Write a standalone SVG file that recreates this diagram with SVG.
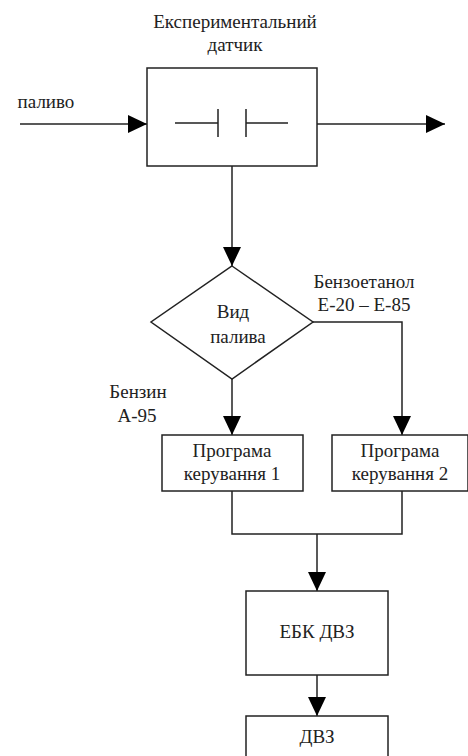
<svg xmlns="http://www.w3.org/2000/svg" width="468" height="756" viewBox="0 0 468 756">
<defs>
<marker id="ah" viewBox="0 0 19 18" refX="19" refY="9" markerWidth="19" markerHeight="18" markerUnits="userSpaceOnUse" orient="auto">
<path d="M0,0 L19,9 L0,18 Z" fill="#000"/>
</marker>
<style>
.s{fill:#fff;stroke:#222;stroke-width:1.5}
.l{fill:none;stroke:#222;stroke-width:1.5}
</style>
</defs>
<rect width="468" height="756" fill="#fff"/>
<g id="connectors">
<path class="l" d="M20,124 H147" marker-end="url(#ah)"/>
<path class="l" d="M317,124 H445" marker-end="url(#ah)"/>
<path class="l" d="M232,166 V266" marker-end="url(#ah)"/>
<path class="l" d="M232,379 V435" marker-end="url(#ah)"/>
<path class="l" d="M313,322 H402 V435" marker-end="url(#ah)"/>
<path class="l" d="M232,491 V534 H402 V491"/>
<path class="l" d="M317,534 V591" marker-end="url(#ah)"/>
<path class="l" d="M317,675 V716" marker-end="url(#ah)"/>
</g>
<g font-family="Liberation Serif, DejaVu Serif, serif" font-size="19" fill="#222" text-anchor="middle">
<g id="label-palyvo"><text x="46" y="108">паливо</text></g>
<g id="sensor">
<text x="235" y="28">Експериментальний</text>
<text x="235" y="51">датчик</text>
<rect class="s" x="147" y="68" width="170" height="98"/>
<path class="l" d="M175,123 H218 M218,109 V137 M246,109 V137 M246,123 H288"/>
</g>
<g id="decision">
<path class="s" d="M232,266 L313,322 L232,379 L151,322 Z"/>
<text x="233" y="318">Вид</text>
<text x="238" y="343">палива</text>
</g>
<g id="label-benzoetanol">
<text x="364" y="288">Бензоетанол</text>
<text x="364" y="311">Е-20 – Е-85</text>
</g>
<g id="label-benzyn">
<text x="138" y="398">Бензин</text>
<text x="137" y="422">А-95</text>
</g>
<g id="program1">
<rect class="s" x="162" y="435" width="141" height="56"/>
<text x="232" y="457">Програма</text>
<text x="232" y="480">керування 1</text>
</g>
<g id="program2">
<rect class="s" x="332" y="435" width="136" height="56"/>
<text x="400" y="457">Програма</text>
<text x="400" y="480">керування 2</text>
</g>
<g id="ebk">
<rect class="s" x="246" y="591" width="142" height="84"/>
<text x="317" y="638">ЕБК ДВЗ</text>
</g>
<g id="dvz">
<rect class="s" x="246" y="716" width="142" height="60"/>
<text x="317" y="743">ДВЗ</text>
</g>
</g>
</svg>
